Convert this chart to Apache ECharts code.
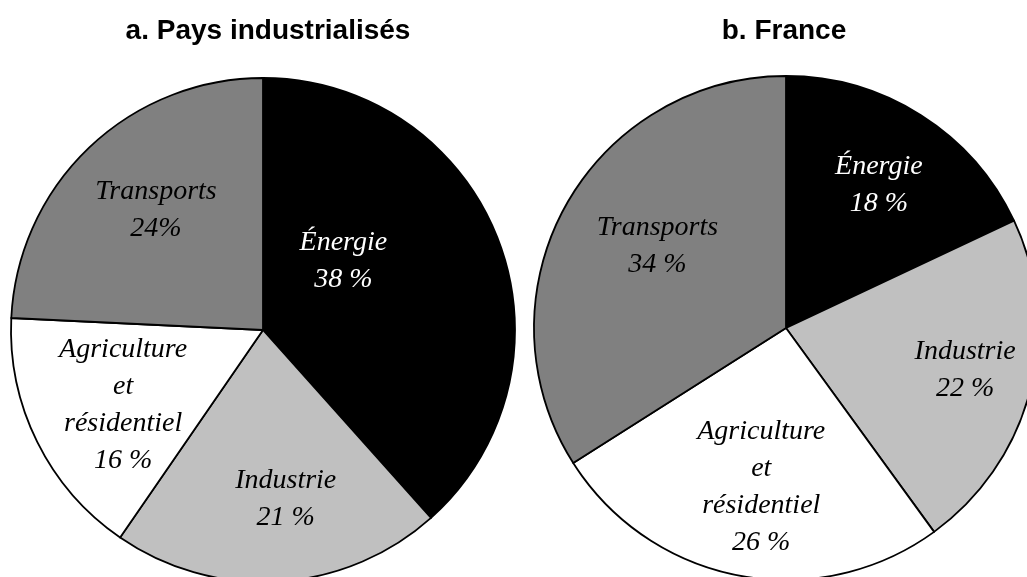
<!DOCTYPE html>
<html lang="fr">
<head>
    <meta charset="UTF-8">
    <title>Émissions par secteur</title>
    <script src="https://cdn.jsdelivr.net/npm/echarts@6/dist/echarts.min.js"></script>
    <style>
        html, body { margin: 0; padding: 0; background: #fff; }
        #container { width: 1027px; height: 577px; }
    </style>
</head>
<body>
<div id="container"></div>

<script type="text/javascript">
    // données
    var sectors = ['Énergie', 'Industrie', 'Agriculture\net\nrésidentiel', 'Transports'];
    var paysValues = [38, 21, 16, 24];
    var paysLabels = ['38 %', '21 %', '16 %', '24%'];
    var franceValues = [18, 22, 26, 34];
    var franceLabels = ['18 %', '22 %', '26 %', '34 %'];
    var titles = ['a. Pays industrialisés', 'b. France'];

    var sectorColors = ['#000000', '#c0c0c0', '#ffffff', '#808080'];
    var textColors = ['#ffffff', '#000000', '#000000', '#000000'];

    // petits décalages des étiquettes (px)
    var paysOffsets = [[-78, -8], [12, 0], [12, 0], [10, 3]];
    var franceOffsets = [[2, 0], [15, 0], [7, -7], [20, 0]];

    var R = 252;

    function sectorData(values) {
        return values.map(function (v, i) {
            return { name: sectors[i], value: v, itemStyle: { color: sectorColors[i] } };
        });
    }

    function labelData(values, pct, offsets) {
        return values.map(function (v, i) {
            return {
                name: sectors[i],
                value: v,
                label: {
                    formatter: sectors[i] + '\n' + pct[i],
                    color: textColors[i],
                    offset: offsets[i]
                }
            };
        });
    }

    function pieSeries(center, values) {
        return {
            type: 'pie',
            center: center,
            radius: [0, R],
            startAngle: 90,
            clockwise: true,
            silent: true,
            animation: false,
            label: { show: false },
            labelLine: { show: false },
            itemStyle: { borderColor: '#000', borderWidth: 1.8 },
            data: sectorData(values)
        };
    }

    // série transparente qui ne sert qu'à placer les étiquettes
    function labelSeries(center, values, pct, offsets) {
        return {
            type: 'pie',
            center: center,
            radius: [Math.round(R * 0.32), R],
            startAngle: 90,
            clockwise: true,
            silent: true,
            animation: false,
            itemStyle: { color: 'transparent', borderWidth: 0 },
            labelLine: { show: false },
            label: {
                show: true,
                position: 'inside',
                fontFamily: 'Liberation Serif',
                fontStyle: 'italic',
                fontSize: 28,
                lineHeight: 37,
                align: 'center'
            },
            data: labelData(values, pct, offsets)
        };
    }

    var dom = document.getElementById('container');
    var myChart = echarts.init(dom, null, { renderer: 'canvas' });

    var titleStyle = { fontFamily: 'Liberation Sans', fontWeight: 'bold', fontSize: 28, color: '#000' };

    var option = {
        backgroundColor: '#ffffff',
        title: [
            { text: titles[0], left: 268, top: 17, textAlign: 'center', padding: 0, textStyle: titleStyle },
            { text: titles[1], left: 784, top: 17, textAlign: 'center', padding: 0, textStyle: titleStyle }
        ],
        series: [
            pieSeries([263, 330], paysValues),
            pieSeries([786, 328], franceValues),
            labelSeries([263, 330], paysValues, paysLabels, paysOffsets),
            labelSeries([786, 328], franceValues, franceLabels, franceOffsets)
        ]
    };

    myChart.setOption(option);
    window.addEventListener('resize', myChart.resize);
</script>
</body>
</html>
